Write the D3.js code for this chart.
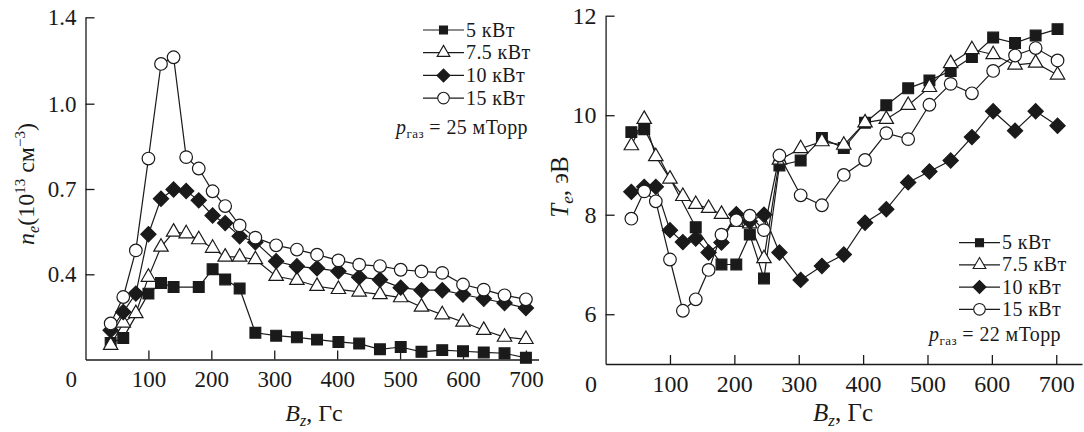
<!DOCTYPE html>
<html>
<head>
<meta charset="utf-8">
<script src="https://cdn.jsdelivr.net/npm/d3@7"></script>
<style>
  body { margin: 0; background: #fff; }
  svg { display: block; }
</style>
</head>
<body>
<svg id="chart" width="1084" height="432"></svg>
<script>
// DATA
const seriesNames = ["5 кВт", "7.5 кВт", "10 кВт", "15 кВт"];
const xTicks = [0, 100, 200, 300, 400, 500, 600, 700];

// left panel: n_e (10^13 cm^-3) vs B_z
const bzLeft = [40, 60, 80, 100, 120, 140, 160, 180, 202, 222, 245, 270, 303, 336, 368, 402, 435, 468, 501, 534, 567, 600, 633, 666, 700];
const ne5 = [0.158, 0.176, null, 0.332, 0.369, 0.355, null, 0.355, 0.418, 0.382, 0.350, 0.194, 0.184, 0.178, 0.170, 0.162, 0.156, 0.136, 0.144, 0.127, 0.133, 0.129, 0.125, 0.122, 0.106];
const ne75 = [0.150, 0.229, 0.262, 0.390, 0.496, 0.549, 0.543, 0.522, 0.492, 0.461, 0.461, 0.452, 0.393, 0.379, 0.358, 0.347, 0.338, 0.329, 0.318, 0.285, 0.258, 0.232, 0.203, 0.179, 0.171];
const ne10 = [0.203, 0.267, 0.332, 0.541, 0.666, 0.698, 0.693, 0.660, 0.607, 0.580, 0.534, 0.513, 0.446, 0.428, 0.421, 0.411, 0.390, 0.381, 0.353, 0.344, 0.344, 0.329, 0.314, 0.299, 0.281];
const ne15 = [0.227, 0.320, 0.484, 0.807, 1.184, 1.215, 0.812, 0.772, 0.692, 0.640, 0.572, 0.529, 0.502, 0.487, 0.469, 0.449, 0.434, 0.429, 0.416, 0.410, 0.405, 0.364, 0.346, 0.326, 0.312];
const neTicks = [0.4, 0.7, 1.0, 1.4];
const neTickLabels = ["0.4", "0.7", "1.0", "1.4"];

// right panel: T_e (eV) vs B_z
const bzRight = [40, 60, 78, 100, 120, 140, 160, 180, 203, 224, 246, 270, 303, 336, 370, 403, 436, 470, 503, 536, 569, 602, 636, 668, 702];
const te5 = [9.66, 9.72, null, null, null, 7.75, null, 7.00, 7.00, 7.60, 6.72, 8.99, 9.09, 9.54, 9.34, 9.85, 10.20, 10.54, 10.70, 10.89, 11.17, 11.56, 11.45, 11.60, 11.73];
const te75 = [9.39, 9.92, 9.17, 8.72, 8.37, 8.21, 8.13, 8.01, 7.85, 7.82, 7.12, 9.10, 9.33, 9.47, 9.40, 9.85, 9.92, 10.20, 10.56, 11.04, 11.32, 11.22, 11.01, 11.05, 10.81];
const te10 = [8.46, 8.56, 8.56, 7.69, 7.45, 7.52, 7.24, 7.44, 8.01, 7.87, 8.00, 7.24, 6.69, 6.97, 7.20, 7.84, 8.11, 8.65, 8.87, 9.09, 9.56, 10.08, 9.69, 10.08, 9.79];
const te15 = [7.92, 8.47, 8.27, 7.10, 6.07, 6.30, 6.89, 7.60, 7.89, 7.98, 7.69, 9.19, 8.39, 8.19, 8.80, 9.10, 9.64, 9.52, 10.21, 10.63, 10.44, 10.89, 11.20, 11.35, 11.10];
const teTicks = [6, 8, 10, 12];
const teTickLabels = ["6", "8", "10", "12"];

// CANVAS SETUP
const serif = "'Liberation Serif', 'Times New Roman', serif";
const svg = d3.select("#chart").attr("font-family", serif);
const ink = "#1a1a1a";
const markerKinds = ["square", "triangle", "diamond", "circle"];
const legendSymbols = [d3.symbolSquare, d3.symbolTriangle, d3.symbolSquare, d3.symbolCircle];
const legendSizes = [64, 70, 84, 105];

function markerPath(kind) {
  if (kind === "square" || kind === "diamond") return d3.symbol(d3.symbolSquare, 116)();
  if (kind === "triangle") return d3.symbol(d3.symbolTriangle, 90)();
  return d3.symbol(d3.symbolCircle, 125)();
}
const filled = (kind) => kind === "square" || kind === "diamond";

function drawMarker(sel, kind) {
  sel
    .append("path")
    .attr("d", markerPath(kind))
    .attr("transform", kind === "diamond" ? "rotate(45)" : null)
    .attr("fill", filled(kind) ? ink : "#fff")
    .attr("stroke", ink)
    .attr("stroke-width", 1.2);
}

function panel(cfg) {
  const { x, y, bz, series, fontSize } = cfg;
  const g = svg.append("g");

  // axes
  const gx = g.append("g").attr("transform", `translate(0,${y.range()[0]})`);
  gx.call(
    d3.axisBottom(x).tickValues(xTicks).tickSizeInner(-9).tickSizeOuter(0).tickPadding(11)
  );
  gx.selectAll(".tick text").attr("dy", "0.71em");
  // the origin label sits left of the y axis
  gx.selectAll(".tick")
    .filter((d) => d === 0)
    .call((t) => t.select("line").remove())
    .select("text")
    .attr("text-anchor", "end")
    .attr("x", -9);

  const gy = g.append("g").attr("transform", `translate(${x(0)},0)`);
  gy.call(
    d3.axisLeft(y).tickValues(cfg.yTicks).tickFormat((d, i) => cfg.yTickLabels[i])
      .tickSizeInner(-9).tickSizeOuter(0).tickPadding(9)
  );

  [gx, gy].forEach((a) => a.attr("font-family", serif).attr("font-size", fontSize));
  g.selectAll(".domain, .tick line").attr("stroke", ink).attr("stroke-width", 1.3);
  g.selectAll(".tick text").attr("fill", ink);

  // series
  const line = d3.line().x((d) => x(d[0])).y((d) => y(d[1]));
  series.forEach((vals, si) => {
    const pts = bz.map((b, i) => [b, vals[i]]).filter((d) => d[1] != null);
    const sg = g.append("g");
    sg.append("path")
      .attr("d", line(pts))
      .attr("fill", "none")
      .attr("stroke", ink)
      .attr("stroke-width", 1.2);
    sg.selectAll("g")
      .data(pts)
      .join("g")
      .attr("transform", (d) => `translate(${x(d[0])},${y(d[1])})`)
      .each(function () { drawMarker(d3.select(this), markerKinds[si]); });
  });

  // legend
  const lg = g.append("g").attr("fill", ink).attr("font-size", 20).attr("letter-spacing", 0.4);
  seriesNames.forEach((name, i) => {
    const yy = cfg.legend.y + i * cfg.legend.step;
    lg.append("line")
      .attr("x1", cfg.legend.x0).attr("x2", cfg.legend.x1)
      .attr("y1", yy).attr("y2", yy)
      .attr("stroke", ink).attr("stroke-width", 1.2);
    lg.append("path")
      .attr("d", d3.symbol(legendSymbols[i], legendSizes[i])())
      .attr("transform", `translate(${(cfg.legend.x0 + cfg.legend.x1) / 2},${yy})` + (i === 2 ? " rotate(45)" : ""))
      .attr("fill", filled(markerKinds[i]) ? ink : "#fff")
      .attr("stroke", ink).attr("stroke-width", 1.1);
    lg.append("text")
      .attr("x", cfg.legend.x1 + 2)
      .attr("y", yy + 6.5)
      .text(name);
  });
  const pt = lg.append("text")
    .attr("x", cfg.legend.pEnd)
    .attr("y", cfg.legend.py)
    .attr("text-anchor", "end");
  pt.append("tspan").attr("font-style", "italic").text("p");
  pt.append("tspan").attr("font-size", 13).attr("dy", 4).text("газ");
  pt.append("tspan").attr("dy", -4).text(` = ${cfg.pressure} мТорр`);

  // x title
  const xt = g.append("text")
    .attr("x", cfg.xTitle[0]).attr("y", cfg.xTitle[1])
    .attr("text-anchor", "middle")
    .attr("fill", ink)
    .attr("font-size", fontSize + 1);
  xt.append("tspan").attr("font-style", "italic").text("B");
  xt.append("tspan").attr("font-style", "italic").attr("font-size", fontSize - 7).attr("dy", 5).text("z");
  xt.append("tspan").attr("dy", -5).text(", Гс");

  // y title
  const yt = g.append("text")
    .attr("transform", `translate(${cfg.yTitle[0]},${cfg.yTitle[1]}) rotate(-90)`)
    .attr("text-anchor", "middle")
    .attr("fill", ink)
    .attr("font-size", fontSize + 1);
  cfg.yTitleParts(yt, fontSize);
}

// left panel
panel({
  x: d3.scaleLinear().domain([0, 720]).range([85.5, 538.5]),
  y: d3.scaleLinear().domain([0.1, 0.4, 0.7, 1.0, 1.4]).range([359.5, 274.3, 189, 103.7, 17.3]),
  bz: bzLeft,
  series: [ne5, ne75, ne10, ne15],
  yTicks: neTicks,
  yTickLabels: neTickLabels,
  fontSize: 23,
  legend: { x0: 423, x1: 464, y: 30, step: 22.7, pEnd: 528, py: 134 },
  pressure: 25,
  xTitle: [314, 421],
  yTitle: [34, 184],
  yTitleParts: (t, fs) => {
    t.append("tspan").attr("font-style", "italic").text("n");
    t.append("tspan").attr("font-style", "italic").attr("font-size", fs - 7).attr("dy", 5).text("e");
    t.append("tspan").attr("dy", -5).text("(10");
    t.append("tspan").attr("font-size", fs - 8).attr("dy", -9).text("13");
    t.append("tspan").attr("dy", 9).text(" см");
    t.append("tspan").attr("font-size", fs - 8).attr("dy", -9).text("−3");
    t.append("tspan").attr("dy", 9).text(")");
  },
});

// right panel
panel({
  x: d3.scaleLinear().domain([0, 740]).range([605.6, 1082]),
  y: d3.scaleLinear().domain([5, 12]).range([364, 15.7]),
  bz: bzRight,
  series: [te5, te75, te10, te15],
  yTicks: teTicks,
  yTickLabels: teTickLabels,
  fontSize: 24,
  legend: { x0: 959, x1: 1000, y: 242.7, step: 22.2, pEnd: 1061, py: 341 },
  pressure: 22,
  xTitle: [843, 421],
  yTitle: [568, 187],
  yTitleParts: (t, fs) => {
    t.append("tspan").attr("font-style", "italic").text("T");
    t.append("tspan").attr("font-style", "italic").attr("font-size", fs - 7).attr("dy", 5).text("e");
    t.append("tspan").attr("dy", -5).text(", эВ");
  },
});
</script>
</body>
</html>
